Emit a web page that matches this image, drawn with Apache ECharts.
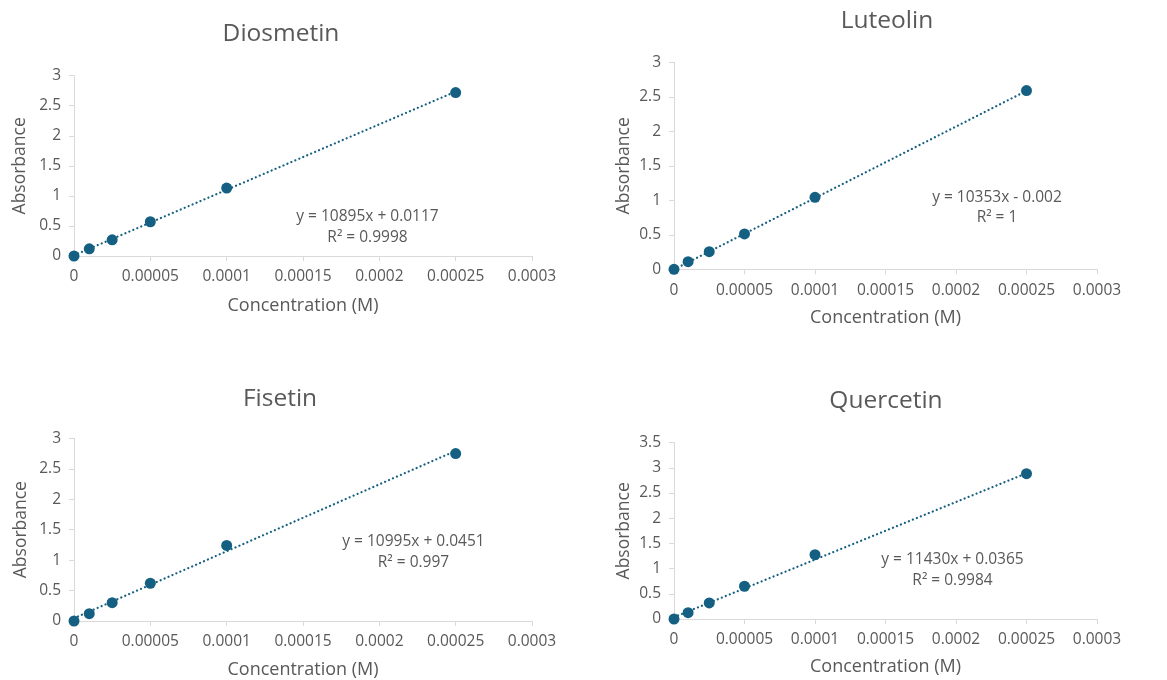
<!DOCTYPE html>
<html>
<head>
<meta charset="utf-8">
<title>Calibration curves</title>
<script src="https://cdn.jsdelivr.net/npm/echarts@6/dist/echarts.min.js"></script>
<style>
  html, body { margin: 0; padding: 0; background: #ffffff; }
  #chart { width: 1167px; height: 680px; }
</style>
</head>
<body>
<div id="chart"></div>
<script>
// Standard concentrations (M) shared by all four compounds
const concentrations = [0, 0.00001, 0.000025, 0.00005, 0.0001, 0.00025];

// Measured absorbance per compound
const diosmetinAbs = [0, 0.12, 0.27, 0.57, 1.13, 2.72];
const luteolinAbs  = [0, 0.11, 0.256, 0.512, 1.043, 2.59];
const fisetinAbs   = [0, 0.12, 0.30, 0.62, 1.24, 2.75];
const quercetinAbs = [0, 0.126, 0.32, 0.65, 1.277, 2.885];

// Linear fits (slope, intercept) and R²
const compounds = ['Diosmetin', 'Luteolin', 'Fisetin', 'Quercetin'];
const slopes     = [10895, 10353, 10995, 11430];
const intercepts = [0.0117, -0.002, 0.0451, 0.0365];
const rSquared   = ['0.9998', '1', '0.997', '0.9984'];

// Axis tick labels
const xTickLabels = ['0', '0.00005', '0.0001', '0.00015', '0.0002', '0.00025', '0.0003'];
const yMaxes = [3, 3, 3, 3.5];

const absorbance = [diosmetinAbs, luteolinAbs, fisetinAbs, quercetinAbs];

const TEXT = '#595959';
const AXIS = '#d9d9d9';
const BLUE = '#156082';
const FONT = 'Open Sans';

// Plot areas for the 2x2 layout
const grids = [
  { left: 74,  top: 75.7,  width: 458, height: 180.3 },
  { left: 674, top: 62.3,  width: 423, height: 207 },
  { left: 74,  top: 438.3, width: 458, height: 182.7 },
  { left: 674, top: 442.7, width: 423, height: 176.3 }
];
const yNameGaps = [45, 41, 44, 41];
const xNameGaps = [41, 40, 40, 39];

// Title and equation placements (pixel centres)
const titlePos = [[281, 34], [887, 21], [280, 399], [886, 401]];
const eqPos = [[367.5, 227], [997, 207.7], [413.5, 552], [952.5, 570.3]];

const xAxes = [], yAxes = [], series = [], graphics = [];

compounds.forEach((name, i) => {
  xAxes.push({
    type: 'value', gridIndex: i, min: 0, max: 0.0003, interval: 0.00005,
    name: 'Concentration (M)', nameLocation: 'middle', nameGap: xNameGaps[i],
    nameTextStyle: { color: TEXT, fontSize: 18, fontFamily: FONT },
    axisLine: { show: true, lineStyle: { color: AXIS, width: 1 } },
    axisTick: { show: true, length: 5, lineStyle: { color: AXIS } },
    splitLine: { show: false },
    axisLabel: {
      color: TEXT, fontSize: 15.5, fontFamily: FONT, margin: 13,
      formatter: v => xTickLabels[Math.round(v / 0.00005)]
    }
  });
  yAxes.push({
    type: 'value', gridIndex: i, min: 0, max: yMaxes[i], interval: 0.5,
    name: 'Absorbance', nameLocation: 'middle', nameGap: yNameGaps[i],
    nameTextStyle: { color: TEXT, fontSize: 17.5, fontFamily: FONT },
    axisLine: { show: true, lineStyle: { color: AXIS, width: 1 } },
    axisTick: { show: true, length: 5, lineStyle: { color: AXIS } },
    splitLine: { show: false },
    axisLabel: { color: TEXT, fontSize: 15.5, fontFamily: FONT, margin: 13 }
  });

  series.push({
    type: 'scatter', name: name, xAxisIndex: i, yAxisIndex: i,
    symbol: 'circle', symbolSize: 11,
    itemStyle: { color: BLUE, opacity: 1 },
    data: concentrations.map((c, k) => [c, absorbance[i][k]]),
    z: 2
  });

  // Linear trendline across the measured range
  const xEnd = concentrations[concentrations.length - 1];
  series.push({
    type: 'line', name: name + ' fit', xAxisIndex: i, yAxisIndex: i,
    symbol: 'none', silent: true,
    lineStyle: { color: BLUE, width: 2.2, type: [0.1, 4.2], cap: 'round' },
    data: [[0, intercepts[i]], [xEnd, slopes[i] * xEnd + intercepts[i]]],
    z: 3
  });

  graphics.push({
    type: 'text', x: titlePos[i][0], y: titlePos[i][1],
    style: {
      text: name, fill: TEXT, font: '24.5px "' + FONT + '"',
      textAlign: 'center', textVerticalAlign: 'middle'
    }
  });

  const sign = intercepts[i] < 0 ? '- ' : '+ ';
  graphics.push({
    type: 'text', x: eqPos[i][0], y: eqPos[i][1],
    style: {
      text: 'y = ' + slopes[i] + 'x ' + sign + Math.abs(intercepts[i]) + '\nR² = ' + rSquared[i],
      fill: TEXT, font: '15.5px "' + FONT + '"', lineHeight: 20.5,
      textAlign: 'center', textVerticalAlign: 'middle'
    }
  });
});

const chart = echarts.init(document.getElementById('chart'), null, { renderer: 'canvas' });
chart.setOption({
  backgroundColor: '#ffffff',
  animation: false,
  grid: grids,
  xAxis: xAxes,
  yAxis: yAxes,
  series: series,
  graphic: graphics
});
</script>
</body>
</html>
